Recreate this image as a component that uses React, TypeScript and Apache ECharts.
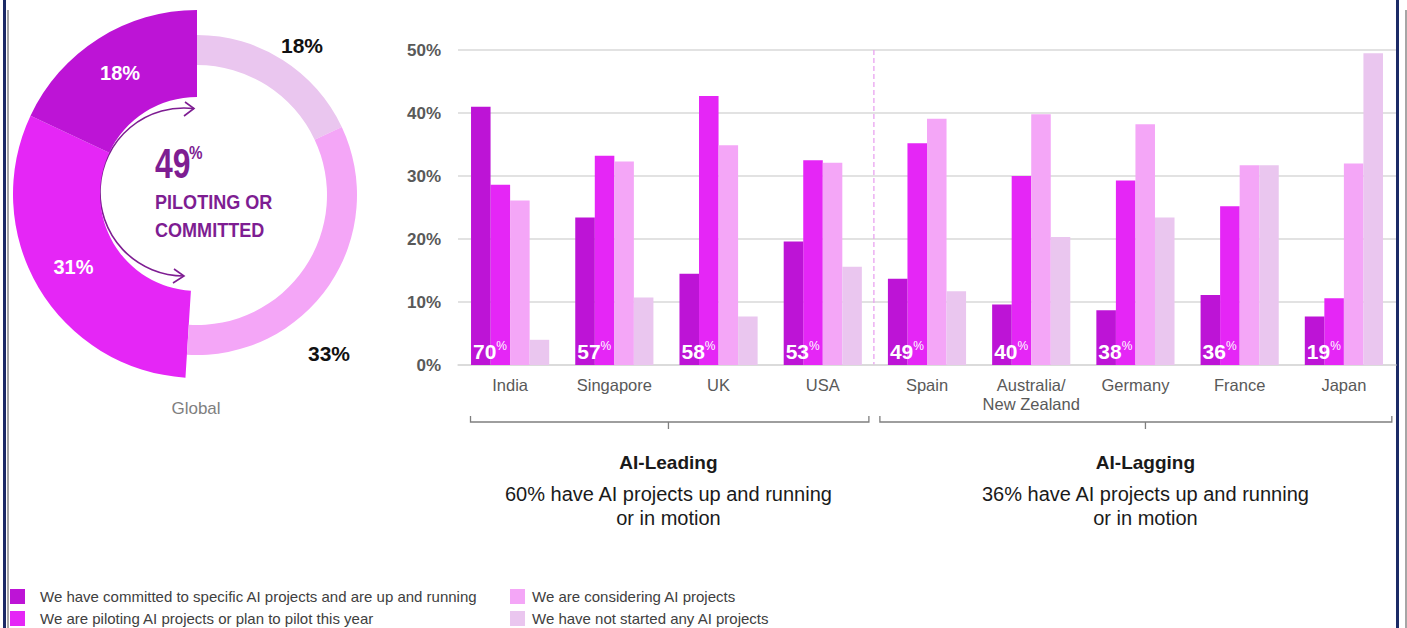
import React, { useEffect, useRef } from "react";
import * as echarts from "echarts";

const categories = ["India", "Singapore", "UK", "USA", "Spain", "Australia/\nNew Zealand", "Germany", "France", "Japan"];
const committed = [41.0, 23.4, 14.5, 19.6, 13.7, 9.6, 8.7, 11.1, 7.7];
const piloting = [28.6, 33.2, 42.7, 32.5, 35.2, 30.0, 29.3, 25.2, 10.6];
const considering = [26.1, 32.3, 34.9, 32.1, 39.1, 39.8, 38.2, 31.7, 32.0];
const notStarted = [4.0, 10.7, 7.7, 15.6, 11.7, 20.3, 23.4, 31.7, 49.5];
const inMotionTotals = [70, 57, 58, 53, 49, 40, 38, 36, 19];

const yTicks = [0, 10, 20, 30, 40, 50];

const seriesNames = [
  "We have committed to specific AI projects and are up and running",
  "We are piloting AI projects or plan to pilot this year",
  "We are considering AI projects",
  "We have not started any AI projects",
];
const colors = ["#BD14D6", "#E526F6", "#F4A6F7", "#EAC6EF"];

// Global donut, clockwise from 12 o'clock: not started, considering, piloting, committed
const globalNames = [seriesNames[3], seriesNames[2], seriesNames[1], seriesNames[0]];
const globalValues = [18, 33, 31, 18];
const globalColors = [colors[3], colors[2], colors[1], colors[0]];

const groupTitles = ["AI-Leading", "AI-Lagging"];
const groupTexts = [
  "60% have AI projects up and running\nor in motion",
  "36% have AI projects up and running\nor in motion",
];

const FONT = "'Liberation Sans', Arial, sans-serif";
const PURPLE = "#7E1D92";

export default function App() {
  const ref = useRef<HTMLDivElement>(null);

  useEffect(() => {
    document.body.style.margin = "0";
    const chart = echarts.init(ref.current!, null, { renderer: "svg" });

    const barData = [committed, piloting, considering, notStarted];
    const transparent = "rgba(0,0,0,0)";

    const legendBase = {
      top: 589,
      height: 60,
      orient: "vertical",
      icon: "rect",
      itemWidth: 15,
      itemHeight: 15,
      itemGap: 7,
      selectedMode: false,
      padding: 0,
    };

    const option: any = {
      animation: false,
      textStyle: { fontFamily: FONT },
      grid: { left: 458, right: 11, top: 50, bottom: 263 },
      xAxis: {
        type: "category",
        data: categories,
        axisTick: { show: false },
        axisLine: { show: true, lineStyle: { color: "#D9D9D9", width: 1.5 } },
        axisLabel: { interval: 0, color: "#595959", fontSize: 16.5, margin: 10, lineHeight: 19, fontFamily: FONT },
      },
      yAxis: {
        type: "value",
        min: yTicks[0],
        max: yTicks[yTicks.length - 1],
        interval: 10,
        axisLine: { show: false },
        axisTick: { show: false },
        axisLabel: {
          formatter: "{value}%",
          color: "#595959",
          fontSize: 17,
          fontWeight: "bold",
          margin: 17,
          fontFamily: FONT,
        },
        splitLine: { lineStyle: { color: "#D9D9D9", width: 1.5 } },
      },
      legend: [
        {
          ...legendBase,
          left: 10,
          data: [seriesNames[0], seriesNames[1]],
          textStyle: { fontSize: 15, color: "#404040", fontFamily: FONT, padding: [0, 0, 0, 10] },
        },
        {
          ...legendBase,
          left: 510,
          data: [seriesNames[2], seriesNames[3]],
          textStyle: { fontSize: 15, color: "#404040", fontFamily: FONT, padding: [0, 0, 0, 2] },
        },
      ],
      series: [
        ...barData.map((d, i) => ({
          type: "bar",
          name: seriesNames[i],
          data: d,
          barGap: "0%",
          barCategoryGap: "25%",
          itemStyle: { color: colors[i] },
          emphasis: { disabled: true },
          z: i === 0 ? 3 : 2,
          label:
            i === 0
              ? {
                  show: true,
                  position: "insideBottomLeft",
                  distance: 2,
                  formatter: (p: any) => `{n|${inMotionTotals[p.dataIndex]}}{s|%}`,
                  rich: {
                    n: { fontSize: 21, fontWeight: "bold", color: "#FFFFFF", fontFamily: FONT },
                    s: { fontSize: 12, color: "#FFFFFF", fontFamily: FONT, padding: [0, 0, 11, 0] },
                  },
                }
              : { show: false },
        })),
        {
          type: "pie",
          name: "Global outer",
          center: [197, 194],
          radius: [97, 184],
          startAngle: 90,
          clockwise: true,
          silent: true,
          emphasis: { disabled: true },
          labelLine: { show: false },
          data: globalValues.map((v, i) => ({
            name: globalNames[i],
            value: v,
            itemStyle: { color: i >= 2 ? globalColors[i] : transparent },
            label:
              i >= 2
                ? {
                    show: true,
                    position: "inside",
                    formatter: "{c}%",
                    color: "#FFFFFF",
                    fontSize: 20,
                    fontWeight: "bold",
                    fontFamily: FONT,
                  }
                : { show: false },
          })),
        },
        {
          type: "pie",
          name: "Global inner",
          center: [197, 195],
          radius: [130, 160],
          startAngle: 90,
          clockwise: true,
          silent: true,
          emphasis: { disabled: true },
          labelLine: { show: false },
          labelLayout: (p: any) =>
            p.dataIndex === 0
              ? { x: 302, y: 45, align: "center", verticalAlign: "middle" }
              : { x: 329, y: 353, align: "center", verticalAlign: "middle" },
          data: globalValues.map((v, i) => ({
            name: globalNames[i],
            value: v,
            itemStyle: { color: i < 2 ? globalColors[i] : transparent },
            label:
              i < 2
                ? {
                    show: true,
                    position: "outside",
                    formatter: "{c}%",
                    color: "#111111",
                    fontSize: 21,
                    fontWeight: "bold",
                    fontFamily: FONT,
                  }
                : { show: false },
          })),
        },
      ],
    };

    chart.setOption(option);

    const px = (i: number) => chart.convertToPixel({ xAxisIndex: 0 }, i) as number;
    const py = (v: number) => chart.convertToPixel({ yAxisIndex: 0 }, v) as number;
    const bw = px(1) - px(0);
    const yTop = py(yTicks[yTicks.length - 1]);
    const yBase = py(0);
    const sepX = (px(3) + px(4)) / 2;

    const br1L = px(0) - 0.38 * bw;
    const br1R = sepX - 6;
    const br1M = (px(0) + px(3)) / 2 + 2;
    const br2L = sepX + 5;
    const br2R = px(8) + 0.46 * bw;
    const br2M = (px(4) + px(8)) / 2 + 10;
    const brY = yBase + 57;

    const bracket = (l: number, r: number, m: number) => [
      { type: "polyline", shape: { points: [[l, brY - 6], [l, brY], [r, brY], [r, brY - 6]] }, style: { stroke: "#7F7F7F", lineWidth: 1.3, fill: null } },
      { type: "line", shape: { x1: m, y1: brY, x2: m, y2: brY + 7 }, style: { stroke: "#7F7F7F", lineWidth: 1.3 } },
    ];

    const globalCommitted = globalValues[2] + globalValues[3];

    const graphic: any[] = [
      // frame lines
      { type: "rect", shape: { x: 3, y: 0, width: 3, height: 628 }, style: { fill: "#1B2A66" } },
      { type: "rect", shape: { x: 7, y: 10, width: 2, height: 618 }, style: { fill: "#A6A6A6" } },
      { type: "rect", shape: { x: 1396, y: 0, width: 3, height: 628 }, style: { fill: "#1B2A66" } },
      { type: "rect", shape: { x: 1405, y: 10, width: 2, height: 618 }, style: { fill: "#A6A6A6" } },
      // separator
      {
        type: "line",
        shape: { x1: sepX - 1, y1: yTop, x2: sepX - 1, y2: yBase },
        style: { stroke: "#E9A2F0", lineWidth: 1.3, lineDash: [5, 3] },
      },
      ...bracket(br1L, br1R, br1M),
      ...bracket(br2L, br2R, br2M),
      {
        type: "text",
        x: br1M,
        y: brY + 40,
        style: { text: groupTitles[0], font: `bold 19px ${FONT}`, fill: "#1A1A1A", textAlign: "center", textVerticalAlign: "middle" },
      },
      {
        type: "text",
        x: br1M,
        y: brY + 84,
        style: { text: groupTexts[0], font: `20px ${FONT}`, lineHeight: 24, fill: "#1A1A1A", textAlign: "center", textVerticalAlign: "middle" },
      },
      {
        type: "text",
        x: br2M,
        y: brY + 40,
        style: { text: groupTitles[1], font: `bold 19px ${FONT}`, fill: "#1A1A1A", textAlign: "center", textVerticalAlign: "middle" },
      },
      {
        type: "text",
        x: br2M,
        y: brY + 84,
        style: { text: groupTexts[1], font: `20px ${FONT}`, lineHeight: 24, fill: "#1A1A1A", textAlign: "center", textVerticalAlign: "middle" },
      },
      // donut center
      {
        type: "text",
        x: 155,
        y: 163,
        scaleX: 0.76,
        style: { text: String(globalCommitted), font: `bold 42px ${FONT}`, fill: PURPLE, textAlign: "left", textVerticalAlign: "middle" },
      },
      {
        type: "text",
        x: 189,
        y: 152,
        scaleX: 0.8,
        style: { text: "%", font: `bold 19px ${FONT}`, fill: PURPLE, textAlign: "left", textVerticalAlign: "middle" },
      },
      {
        type: "text",
        x: 155,
        y: 201,
        scaleX: 0.86,
        style: { text: "PILOTING OR", font: `bold 21px ${FONT}`, fill: PURPLE, textAlign: "left", textVerticalAlign: "middle" },
      },
      {
        type: "text",
        x: 155,
        y: 229,
        scaleX: 0.86,
        style: { text: "COMMITTED", font: `bold 21px ${FONT}`, fill: PURPLE, textAlign: "left", textVerticalAlign: "middle" },
      },
      {
        type: "arc",
        shape: { cx: 184, cy: 192, r: 84, startAngle: Math.PI / 2, endAngle: (3 * Math.PI) / 2 + 0.12, clockwise: true },
        style: { stroke: PURPLE, lineWidth: 1.6, fill: null },
      },
      {
        type: "polyline",
        shape: { points: [[185, 102], [194, 108.5], [184, 116]] },
        style: { stroke: PURPLE, lineWidth: 1.6, fill: null },
      },
      {
        type: "polyline",
        shape: { points: [[174, 269], [184, 276], [173, 283]] },
        style: { stroke: PURPLE, lineWidth: 1.6, fill: null },
      },
      {
        type: "text",
        x: 196,
        y: 408,
        style: { text: "Global", font: `17px ${FONT}`, fill: "#7F7F7F", textAlign: "center", textVerticalAlign: "middle" },
      },
    ];

    chart.setOption({ graphic });

    return () => chart.dispose();
  }, []);

  return <div ref={ref} style={{ width: 1407, height: 628 }} />;
}
